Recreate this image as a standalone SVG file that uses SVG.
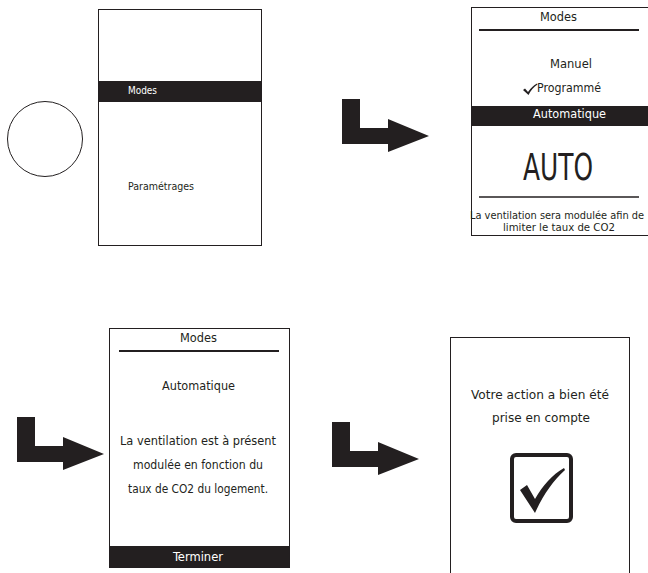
<svg xmlns="http://www.w3.org/2000/svg" width="648" height="573" viewBox="0 0 648 573">
<style>
.frame{fill:#fff;stroke:#231f20;stroke-width:1}
.bar{fill:#231f20}
.t{font-family:"DejaVu Sans Condensed","DejaVu Sans","Liberation Sans",sans-serif;font-size:12.5px;fill:#231f20}
.s{font-size:11px}
.xs{font-size:10.5px}
.w{fill:#fff}
.rule{stroke:#231f20;stroke-width:2}
.arrow{fill:#231f20}
</style>
<defs>
<path id="larrow" d="M0,0 H18 V29 H46 V20 L87,37 L46,53 V45 H0 Z"/>
</defs>

<g id="knob">
<circle cx="45" cy="139" r="37.5" fill="none" stroke="#231f20" stroke-width="1"/>
</g>

<g id="screen-menu">
<rect class="frame" x="98.5" y="9.5" width="163" height="236"/>
<rect class="bar" x="98.5" y="81" width="163" height="21"/>
<text class="t s w" x="128" y="94" textLength="29" lengthAdjust="spacingAndGlyphs">Modes</text>
<text class="t s" x="128" y="190" textLength="66" lengthAdjust="spacingAndGlyphs">Paramétrages</text>
</g>

<g id="screen-modes">
<rect class="frame" x="471.5" y="7.5" width="180" height="228"/>
<text class="t" x="540" y="21" textLength="37" lengthAdjust="spacingAndGlyphs">Modes</text>
<line class="rule" x1="479" y1="30" x2="639" y2="30"/>
<text class="t" x="550" y="68" textLength="42" lengthAdjust="spacingAndGlyphs">Manuel</text>
<path d="M523,90 L525,88.5 L528,92 Q532,86 537,83.5 L537.5,84.5 Q532,88 528.5,95 Z" fill="#231f20"/>
<text class="t" x="537" y="92" textLength="64" lengthAdjust="spacingAndGlyphs">Programmé</text>
<rect class="bar" x="471.5" y="106" width="180" height="20"/>
<text class="t w" x="533" y="118" textLength="73" lengthAdjust="spacingAndGlyphs">Automatique</text>
<text class="t" x="523" y="180" style="font-size:38px" textLength="70" lengthAdjust="spacingAndGlyphs">AUTO</text>
<line x1="479" y1="197" x2="639" y2="197" stroke="#231f20" stroke-width="1.3"/>
<text class="t xs" x="470" y="219" textLength="174" lengthAdjust="spacingAndGlyphs">La ventilation sera modulée afin de</text>
<text class="t xs" x="503" y="231" textLength="112" lengthAdjust="spacingAndGlyphs">limiter le taux de CO2</text>
</g>

<g id="screen-confirm">
<rect class="frame" x="109.5" y="328.5" width="180" height="239"/>
<text class="t" x="180" y="342" textLength="37" lengthAdjust="spacingAndGlyphs">Modes</text>
<line class="rule" x1="119" y1="351" x2="279" y2="351"/>
<text class="t" x="162" y="390" textLength="73" lengthAdjust="spacingAndGlyphs">Automatique</text>
<text class="t" x="120" y="445" textLength="156" lengthAdjust="spacingAndGlyphs">La ventilation est à présent</text>
<text class="t" x="133" y="469" textLength="130" lengthAdjust="spacingAndGlyphs">modulée en fonction du</text>
<text class="t" x="128" y="493" textLength="140" lengthAdjust="spacingAndGlyphs">taux de CO2 du logement.</text>
<rect class="bar" x="109.5" y="546" width="180" height="21.5"/>
<text class="t w" x="173" y="561" textLength="50" lengthAdjust="spacingAndGlyphs">Terminer</text>
</g>

<g id="screen-done">
<rect class="frame" x="450.5" y="337.5" width="179" height="250"/>
<text class="t" x="471" y="399" textLength="138" lengthAdjust="spacingAndGlyphs">Votre action a bien été</text>
<text class="t" x="492" y="422" textLength="98" lengthAdjust="spacingAndGlyphs">prise en compte</text>
<rect x="512" y="455" width="59" height="66" rx="4" fill="none" stroke="#231f20" stroke-width="4"/>
<path d="M520,490 L527,485 L535,499 C543,485 552,475 564,468 L565,470 C553,481 543,495 535,513 Z" fill="#231f20"/>
</g>

<g id="connectors">
<use href="#larrow" class="arrow" transform="translate(342,99)"/>
<use href="#larrow" class="arrow" transform="translate(17,417)"/>
<use href="#larrow" class="arrow" transform="translate(332,422)"/>
</g>
</svg>
